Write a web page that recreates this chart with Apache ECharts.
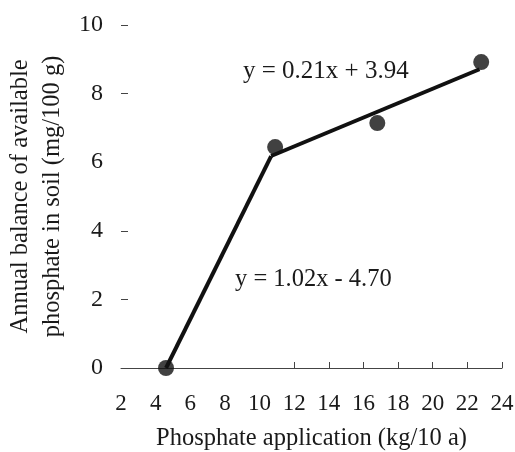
<!DOCTYPE html>
<html><head><meta charset="utf-8">
<script src="https://cdn.jsdelivr.net/npm/echarts@6/dist/echarts.min.js"></script>
<style>html,body{margin:0;padding:0;background:#fff}#c{width:515px;height:452px}</style>
</head><body><div id="c"></div>
<script>
const pointsX = [4.6, 10.9, 16.8, 22.8];
const pointsY = [0, 6.44, 7.14, 8.92];
const seg1 = [[4.6, 0], [10.67, 6.18]];
const seg2 = [[10.67, 6.18], [22.7, 8.71]];
const xTickValues = [12, 14, 16, 18, 20, 22, 24];
const yTickValues = [2, 4, 8, 10];
const eq1 = 'y = 0.21x + 3.94';
const eq2 = 'y = 1.02x - 4.70';
const xTitle = 'Phosphate application (kg/10 a)';
const yTitle = 'Annual balance of available\nphosphate in soil (mg/100 g)';

const font = 'Liberation Serif';
const chart = echarts.init(document.getElementById('c'));
chart.setOption({
  animation: false,
  textStyle: {fontFamily: font},
  grid: {left: 121, right: 13, top: 25, bottom: 84, containLabel: false, outerBoundsMode: 'none'},
  xAxis: {
    type: 'value', min: 2, max: 24, interval: 2,
    axisLine: {show: true, lineStyle: {color: '#444', width: 1}},
    axisTick: {show: true, inside: true, length: 6, customValues: xTickValues, lineStyle: {color: '#444'}},
    axisLabel: {color: '#1a1a1a', fontSize: 23, fontFamily: font, margin: 24, hideOverlap: false},
    splitLine: {show: false},
    name: xTitle, nameLocation: 'middle', nameGap: 58,
    nameTextStyle: {color: '#1a1a1a', fontSize: 24.5, fontFamily: font}
  },
  yAxis: {
    type: 'value', min: 0, max: 10, interval: 2,
    axisLine: {show: false},
    axisTick: {show: true, inside: true, length: 7, customValues: yTickValues, lineStyle: {color: '#444'}},
    axisLabel: {color: '#1a1a1a', fontSize: 24, fontFamily: font, margin: 18},
    splitLine: {show: false},
    name: yTitle, nameLocation: 'middle', nameGap: 48, nameRotate: 90,
    nameTextStyle: {color: '#1a1a1a', fontSize: 24.5, fontFamily: font, lineHeight: 32, align: 'center'}
  },
  series: [
    {type: 'line', data: seg1, symbol: 'none', lineStyle: {color: '#111', width: 4}, z: 2},
    {type: 'line', data: seg2, symbol: 'none', lineStyle: {color: '#111', width: 4}, z: 2},
    {type: 'scatter', data: pointsX.map((x, i) => [x, pointsY[i]]), symbolSize: 16,
     itemStyle: {color: '#111'}, z: 3}
  ],
  graphic: [
    {type: 'text', left: 243, top: 59, style: {text: eq1, font: '25px "Liberation Serif"', fill: '#1a1a1a'}},
    {type: 'text', left: 235, top: 267, style: {text: eq2, font: '24.5px "Liberation Serif"', fill: '#1a1a1a'}}
  ]
});
</script></body></html>
